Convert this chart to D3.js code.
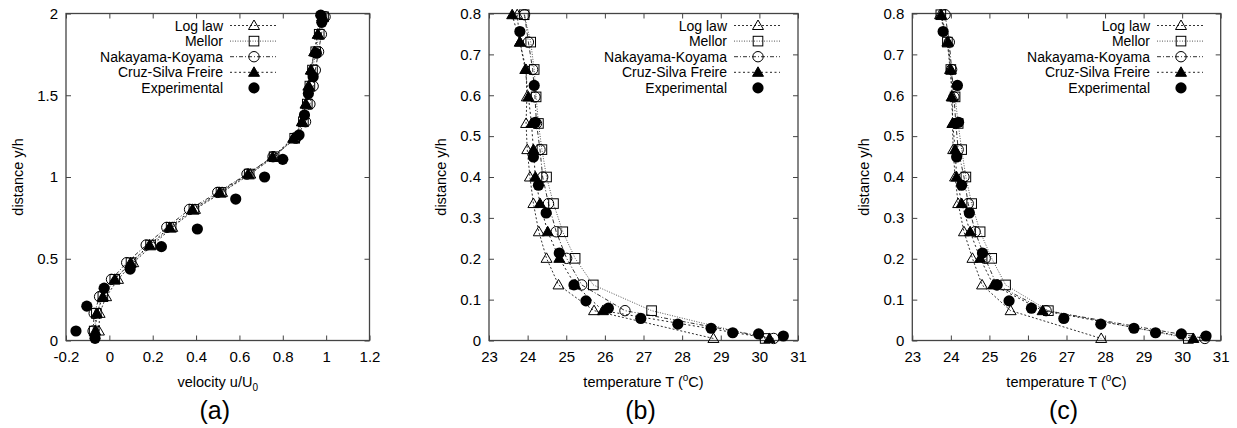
<!DOCTYPE html>
<html>
  <head>
    <meta http-equiv="Content-Type" content="text/html; charset=UTF-8" />
    <title>Velocity and temperature profiles</title>
    <script src="https://cdn.jsdelivr.net/npm/d3@7/dist/d3.min.js"></script>
    <style>
      body { margin: 0; background: #ffffff; }
      text { font-family: "Liberation Sans", Arial, Helvetica, sans-serif; fill: #000; }
    </style>
  </head>
  <body>
    <svg width="1237" height="428" id="mainsvg" style="background-color: #ffffff;"></svg>
    <script>
        // series names, in legend order
        const seriesNames = ['Log law', 'Mellor', 'Nakayama-Koyama', 'Cruz-Silva Freire', 'Experimental'];

        // ---- panel (a): velocity u/U0 vs y/h ----
        const aY = [0.058, 0.166, 0.268, 0.374, 0.476, 0.584, 0.692, 0.802, 0.906, 1.018,
                    1.124, 1.237, 1.338, 1.446, 1.556, 1.654, 1.766, 1.873, 1.98];
        const aLogLaw = [-0.048, -0.045, -0.015, 0.04, 0.11, 0.2, 0.29, 0.395, 0.52, 0.65,
                         0.76, 0.85, 0.89, 0.905, 0.918, 0.93, 0.945, 0.962, 0.985];
        const aMellor = [-0.07, -0.06, -0.03, 0.025, 0.1, 0.19, 0.285, 0.39, 0.515, 0.645,
                         0.76, 0.855, 0.895, 0.913, 0.925, 0.937, 0.952, 0.968, 0.988];
        const aNakayama = [-0.075, -0.07, -0.045, 0.01, 0.08, 0.17, 0.265, 0.37, 0.5, 0.635,
                           0.755, 0.86, 0.905, 0.925, 0.94, 0.95, 0.965, 0.978, 0.995];
        const aCruz = [-0.065, -0.058, -0.03, 0.025, 0.098, 0.185, 0.278, 0.383, 0.508, 0.64,
                       0.753, 0.848, 0.888, 0.907, 0.92, 0.93, 0.946, 0.962, 0.982];
        const aExpU = [-0.154, -0.066, -0.104, -0.024, 0.096, 0.24, 0.406, 0.583, 0.716, 0.8,
                       0.875, 0.9, 0.918, 0.94, 0.955, 0.98, 0.975];
        const aExpY = [0.058, 0.013, 0.21, 0.32, 0.437, 0.574, 0.682, 0.865, 1.0, 1.108,
                       1.257, 1.379, 1.51, 1.613, 1.757, 1.946, 1.99];
        const aXTicks = [-0.2, 0, 0.2, 0.4, 0.6, 0.8, 1, 1.2];
        const aXTickLabels = ['-0.2', '0', '0.2', '0.4', '0.6', '0.8', '1', '1.2'];
        const aYTicks = [0, 0.5, 1, 1.5, 2];
        const aYTickLabels = ['0', '0.5', '1', '1.5', '2'];

        // ---- panels (b) and (c): temperature T vs y/h ----
        const tY = [0.797, 0.73, 0.663, 0.596, 0.531, 0.467, 0.40, 0.335, 0.266, 0.201, 0.136, 0.073, 0.005];
        const bLogLaw = [23.73, 23.80, 23.96, 23.98, 23.96, 23.99, 24.06, 24.15, 24.29, 24.49, 24.80, 25.72, 28.81];
        const bMellor = [23.91, 24.08, 24.17, 24.22, 24.28, 24.37, 24.49, 24.67, 24.91, 25.23, 25.70, 27.21, 30.15];
        const bNakayama = [23.92, 24.02, 24.13, 24.19, 24.23, 24.32, 24.39, 24.54, 24.74, 25.01, 25.40, 26.52, 30.37];
        const bCruz = [23.60, 23.80, 23.94, 24.02, 24.10, 24.15, 24.20, 24.32, 24.52, 24.82, 25.23, 25.95, 30.26];
        const cLogLaw = [23.72, 23.91, 23.98, 24.05, 24.04, 24.06, 24.11, 24.19, 24.34, 24.56, 24.81, 25.55, 27.9];
        const cMellor = [23.74, 23.91, 24.0, 24.11, 24.19, 24.28, 24.39, 24.54, 24.76, 25.06, 25.42, 26.53, 30.16];
        const cNakayama = [23.85, 23.96, 24.02, 24.08, 24.13, 24.19, 24.34, 24.45, 24.63, 24.89, 25.19, 26.47, 30.59];
        const cCruz = [23.75, 23.93, 24.0, 24.02, 24.05, 24.11, 24.15, 24.28, 24.5, 24.76, 25.1, 26.38, 30.29];
        // experimental temperature profile (same measurements in (b) and (c))
        const tExpT = [23.8, 24.17, 24.2, 24.15, 24.28, 24.48, 24.82, 25.2, 25.51, 26.09,
                       26.93, 27.89, 28.75, 29.31, 29.98, 30.62];
        const tExpY = [0.756, 0.624, 0.534, 0.449, 0.38, 0.312, 0.214, 0.136, 0.097, 0.079,
                       0.054, 0.040, 0.030, 0.019, 0.016, 0.011];
        const tXTicks = [23, 24, 25, 26, 27, 28, 29, 30, 31];
        const tXTickLabels = ['23', '24', '25', '26', '27', '28', '29', '30', '31'];
        const tYTicks = [0, 0.1, 0.2, 0.3, 0.4, 0.5, 0.6, 0.7, 0.8];
        const tYTickLabels = ['0', '0.1', '0.2', '0.3', '0.4', '0.5', '0.6', '0.7', '0.8'];

        const svg = d3.select('#mainsvg');
        const plotTop = 13.5, plotBottom = 340.5;

        // marker + line style per series
        const styles = [
          {shape: 'tri',  fill: 'none', dash: '2,2',     stroke: '#333'},
          {shape: 'sq',   fill: 'none', dash: '1,1.5',   stroke: '#555'},
          {shape: 'circ', fill: 'none', dash: '4,2,1,2', stroke: '#333'},
          {shape: 'tri',  fill: '#000', dash: '2,2.5',   stroke: '#222'},
          {shape: 'dot',  fill: '#000', dash: null,      stroke: null}
        ];

        const drawMarker = function(g, x, y, st) {
          if (st.shape === 'tri') {
            g.append('path')
              .attr('d', `M${x},${y - 5.5} L${x + 5.5},${y + 4} L${x - 5.5},${y + 4} Z`)
              .attr('fill', st.fill).attr('stroke', '#000').attr('stroke-width', 1);
          } else if (st.shape === 'sq') {
            g.append('rect').attr('x', x - 4.8).attr('y', y - 4.8).attr('width', 9.6).attr('height', 9.6)
              .attr('fill', 'none').attr('stroke', '#000').attr('stroke-width', 1);
          } else if (st.shape === 'circ') {
            g.append('circle').attr('cx', x).attr('cy', y).attr('r', 5.2)
              .attr('fill', 'none').attr('stroke', '#000').attr('stroke-width', 1);
          } else {
            g.append('circle').attr('cx', x).attr('cy', y).attr('r', 5.6).attr('fill', '#000');
          }
        };

        const drawPanel = function(cfg) {
          const xScale = d3.scaleLinear().domain(cfg.xDomain).range([cfg.left, cfg.right]);
          const yScale = d3.scaleLinear().domain(cfg.yDomain).range([plotBottom, plotTop]);
          const g = svg.append('g');

          // axes with inward ticks (mirrored on top and right)
          const xAxis = d3.axisBottom(xScale).tickValues(cfg.xTicks)
            .tickFormat((d, i) => cfg.xTickLabels[i]).tickSize(-5).tickPadding(11);
          const yAxis = d3.axisLeft(yScale).tickValues(cfg.yTicks)
            .tickFormat((d, i) => cfg.yTickLabels[i]).tickSize(-5).tickPadding(8);
          const xTop = d3.axisTop(xScale).tickValues(cfg.xTicks).tickFormat('').tickSize(-5);
          const yRight = d3.axisRight(yScale).tickValues(cfg.yTicks).tickFormat('').tickSize(-5);

          const axes = [
            g.append('g').attr('transform', `translate(0, ${plotBottom})`).call(xAxis),
            g.append('g').attr('transform', `translate(${cfg.left}, 0)`).call(yAxis),
            g.append('g').attr('transform', `translate(0, ${plotTop})`).call(xTop),
            g.append('g').attr('transform', `translate(${cfg.right}, 0)`).call(yRight)
          ];
          axes.forEach(a => {
            a.selectAll('.domain').remove();
            a.selectAll('line').attr('stroke', '#444');
            a.selectAll('text').attr('font-size', 15).attr('font-family', '"Liberation Sans", Arial, sans-serif').attr('fill', '#000');
          });

          g.append('rect')
            .attr('x', cfg.left).attr('y', plotTop)
            .attr('width', cfg.right - cfg.left).attr('height', plotBottom - plotTop)
            .attr('fill', 'none').attr('stroke', '#444').attr('stroke-width', 1.3);

          // model curves
          const line = d3.line().x(d => xScale(d[0])).y(d => yScale(d[1]));
          cfg.models.forEach((xs, k) => {
            const pts = xs.map((v, i) => [v, cfg.modelY[i]]);
            g.append('path').datum(pts).attr('d', line)
              .attr('fill', 'none').attr('stroke', styles[k].stroke)
              .attr('stroke-width', 1).attr('stroke-dasharray', styles[k].dash);
          });
          cfg.models.forEach((xs, k) => {
            xs.forEach((v, i) => drawMarker(g, xScale(v), yScale(cfg.modelY[i]), styles[k]));
          });
          cfg.expX.forEach((v, i) => drawMarker(g, xScale(v), yScale(cfg.expY[i]), styles[4]));

          // legend
          const textEnd = cfg.legendEnd;
          seriesNames.forEach((name, k) => {
            const ly = 25.5 + k * 15.6;
            g.append('text').attr('x', textEnd).attr('y', ly).attr('dy', '0.36em')
              .attr('text-anchor', 'end').attr('font-size', 14).text(name);
            if (styles[k].dash) {
              g.append('line').attr('x1', textEnd + 7).attr('x2', textEnd + 53)
                .attr('y1', ly).attr('y2', ly)
                .attr('stroke', styles[k].stroke).attr('stroke-dasharray', styles[k].dash);
            }
            drawMarker(g, textEnd + 31, ly, styles[k]);
          });

          // axis titles
          const cx = (cfg.left + cfg.right) / 2;
          const xt = g.append('text').attr('x', cx).attr('y', 387)
            .attr('text-anchor', 'middle').attr('font-size', 14.5);
          cfg.xTitle(xt);
          g.append('text').attr('transform', `translate(${cfg.left - 43}, ${(plotTop + plotBottom) / 2}) rotate(-90)`)
            .attr('text-anchor', 'middle').attr('font-size', 14.5).text('distance y/h');
          g.append('text').attr('x', cx - 3).attr('y', 419)
            .attr('text-anchor', 'middle').attr('font-size', 25).text(cfg.tag);
        };

        const velTitle = t => {
          t.append('tspan').text('velocity u/U');
          t.append('tspan').attr('font-size', 10).attr('dy', 4).text('0');
        };
        const tempTitle = t => {
          t.append('tspan').text('temperature T (');
          t.append('tspan').attr('font-size', 10).attr('dy', -6).text('o');
          t.append('tspan').attr('dy', 6).text('C)');
        };

        drawPanel({left: 66, right: 369.5, xDomain: [-0.2, 1.2], yDomain: [0, 2],
          xTicks: aXTicks, xTickLabels: aXTickLabels, yTicks: aYTicks, yTickLabels: aYTickLabels,
          modelY: aY, models: [aLogLaw, aMellor, aNakayama, aCruz], expX: aExpU, expY: aExpY,
          legendEnd: 223, xTitle: velTitle, tag: '(a)'});
        drawPanel({left: 489, right: 798, xDomain: [23, 31], yDomain: [0, 0.8],
          xTicks: tXTicks, xTickLabels: tXTickLabels, yTicks: tYTicks, yTickLabels: tYTickLabels,
          modelY: tY, models: [bLogLaw, bMellor, bNakayama, bCruz], expX: tExpT, expY: tExpY,
          legendEnd: 727, xTitle: tempTitle, tag: '(b)'});
        drawPanel({left: 912.3, right: 1220.7, xDomain: [23, 31], yDomain: [0, 0.8],
          xTicks: tXTicks, xTickLabels: tXTickLabels, yTicks: tYTicks, yTickLabels: tYTickLabels,
          modelY: tY, models: [cLogLaw, cMellor, cNakayama, cCruz], expX: tExpT, expY: tExpY,
          legendEnd: 1150, xTitle: tempTitle, tag: '(c)'});
    </script>
  </body>
</html>
